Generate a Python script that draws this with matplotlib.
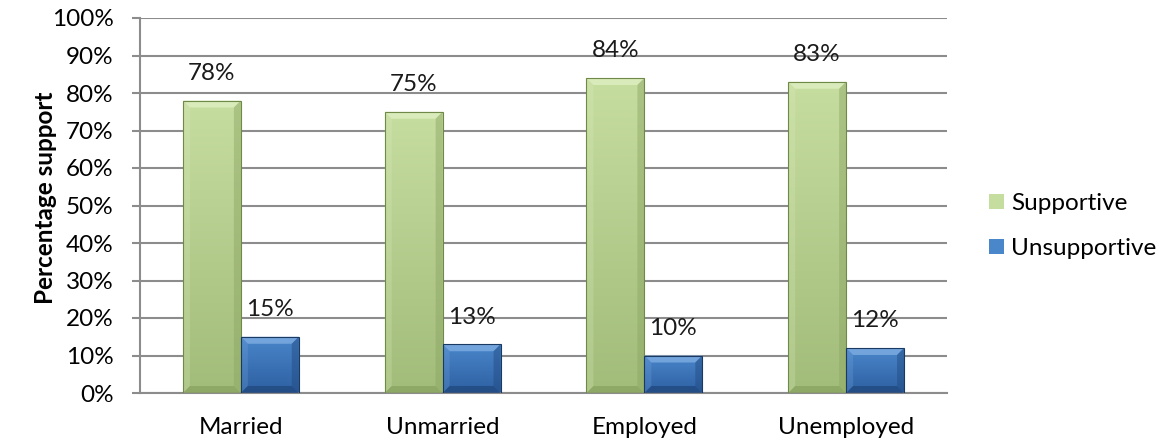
import numpy as np
import matplotlib
matplotlib.use("Agg")
import matplotlib.pyplot as plt
from matplotlib.patches import Polygon
from matplotlib.colors import LinearSegmentedColormap

plt.rcParams['font.family'] = ['Lato', 'DejaVu Sans']

categories = ["Married", "Unmarried", "Employed", "Unemployed"]
supportive = [78, 75, 84, 83]
unsupportive = [15, 13, 10, 12]

# top, bottom of the fill gradient; bevel light/dark; outline
top_c = {"Supportive": "#C6DDA0", "Unsupportive": "#4A86CA"}
bot_c = {"Supportive": "#A2BC7A", "Unsupportive": "#2D60A2"}
light = {"Supportive": "#DCEDBE", "Unsupportive": "#78A8DE"}
dark = {"Supportive": "#8AA462", "Unsupportive": "#21497F"}
edge = {"Supportive": "#6F8A48", "Unsupportive": "#1B3A63"}

FS = 17.5

fig = plt.figure(figsize=(11.66, 4.41), dpi=100)
ax = fig.add_axes([140/1166, 1-393/441, (947-140)/1166, (393-18)/441])

x = np.arange(len(categories))
w = 0.287
ax.set_xlim(-0.5, len(categories)-0.5)
ax.set_ylim(0, 100)

grad = np.linspace(1, 0, 64).reshape(-1, 1)


def shade(ax, bar, name, px=7):
    # vertical gradient fill plus a fake bevel round the edges
    x0, y0 = bar.get_x(), bar.get_y()
    x1, y1 = x0 + bar.get_width(), y0 + bar.get_height()
    cmap = LinearSegmentedColormap.from_list(name, [bot_c[name], top_c[name]])
    im = ax.imshow(grad, cmap=cmap, extent=(x0, x1, y0, y1), aspect='auto',
                   interpolation='bilinear', zorder=2, vmin=0, vmax=1)
    im.set_clip_path(bar)
    inv = ax.transData.inverted()
    p0 = ax.transData.transform((x0, y0))
    dx = inv.transform(p0 + (px, 0))[0] - x0
    dy = inv.transform(p0 + (0, px))[1] - y0
    dy = min(dy, (y1 - y0) / 2)
    top = [(x0, y1), (x1, y1), (x1-dx, y1-dy), (x0+dx, y1-dy)]
    left = [(x0, y0), (x0, y1), (x0+dx, y1-dy), (x0+dx, y0+dy)]
    right = [(x1, y0), (x1, y1), (x1-dx, y1-dy), (x1-dx, y0+dy)]
    bottom = [(x0, y0), (x1, y0), (x1-dx, y0+dy), (x0+dx, y0+dy)]
    for pts, c, a in [(top, light[name], 0.9), (left, light[name], 0.25),
                      (right, dark[name], 0.45), (bottom, dark[name], 0.8)]:
        ax.add_patch(Polygon(pts, closed=True, facecolor=c, edgecolor='none',
                             alpha=a, zorder=3))
    ax.add_patch(Polygon([(x0, y0), (x1, y0), (x1, y1), (x0, y1)], closed=True,
                         facecolor='none', edgecolor=edge[name], lw=0.8, zorder=4))


for vals, off, name in [(supportive, -w/2, "Supportive"), (unsupportive, w/2, "Unsupportive")]:
    bars = ax.bar(x + off, vals, w, color=top_c[name], edgecolor='none', zorder=2, label=name)
    for b, v in zip(bars, vals):
        shade(ax, b, name)
        ax.annotate(f"{v}%", (b.get_x() + b.get_width()/2, v), xytext=(0, 12),
                    textcoords='offset points', ha='center', va='bottom', fontsize=FS,
                    color='#1a1a1a', zorder=5)

ax.set_xlim(-0.5, len(categories)-0.5)
ax.set_ylim(0, 100)
ax.set_yticks(np.arange(0, 101, 10))
ax.set_yticklabels([f"{t}%" for t in range(0, 101, 10)], fontsize=FS)
ax.set_xticks(x)
ax.set_xticklabels(categories, fontsize=FS)
ax.tick_params(axis='y', length=6, width=1.5, color='#8C8C8C', pad=13)
ax.tick_params(axis='x', length=0, pad=17)
ax.grid(axis='y', color='#8C8C8C', lw=1.5, zorder=0)
ax.set_axisbelow(True)
for s in ['top', 'right']:
    ax.spines[s].set_visible(False)
for s in ['left', 'bottom']:
    ax.spines[s].set_color('#8C8C8C')
    ax.spines[s].set_linewidth(1.5)

ax.set_ylabel("Percentage support", fontsize=FS, fontweight='bold')
ax.yaxis.set_label_coords(-0.103, 0.52)

leg = ax.legend(loc='center left', bbox_to_anchor=(1.025, 0.445), frameon=False,
                fontsize=FS, handlelength=0.6, handleheight=0.6, handletextpad=0.3,
                labelspacing=1.0)

fig.savefig("out.png", dpi=100)
